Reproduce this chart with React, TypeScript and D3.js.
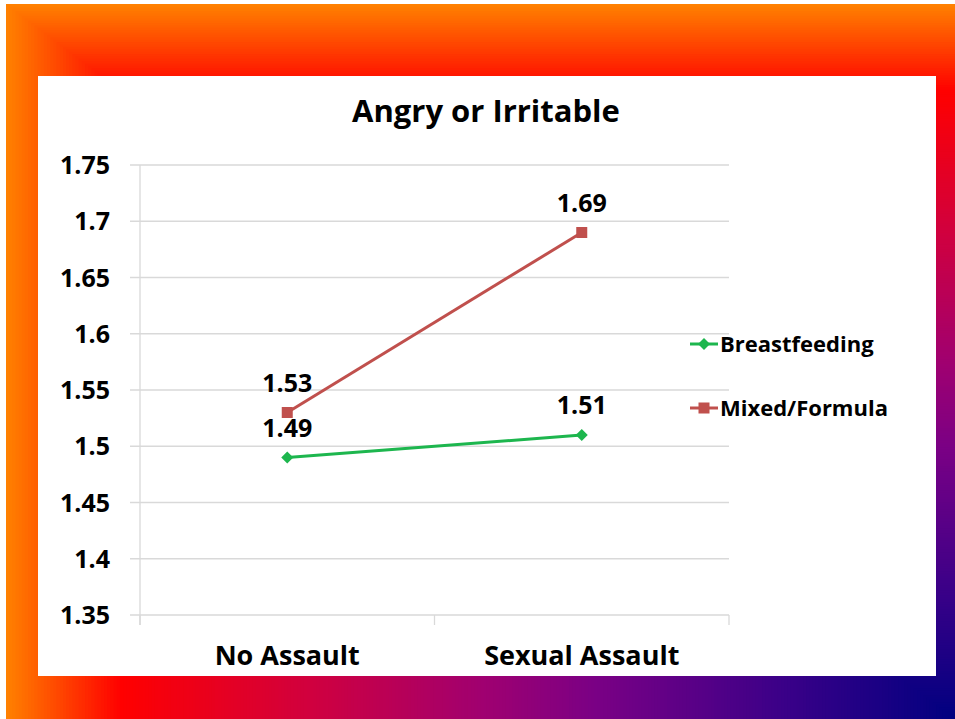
import React from "react";
import * as d3 from "d3";

const categories = ["No Assault", "Sexual Assault"];
const breastfeeding = [1.49, 1.51];
const mixedFormula = [1.53, 1.69];
const yTicks = [1.35, 1.4, 1.45, 1.5, 1.55, 1.6, 1.65, 1.7, 1.75];
const seriesNames = ["Breastfeeding", "Mixed/Formula"];
const title = "Angry or Irritable";

const W = 955;
const H = 719;
const FONT = "'Open Sans', Lato, sans-serif";
const GREEN = "#1DB64E";
const RED = "#C0504D";

export default function App() {
  const plotL = 140, plotR = 729, plotT = 165, plotB = 615;
  const x = d3.scaleBand<string>().domain(categories).range([plotL, plotR]);
  const cx = (c: string) => (x(c) as number) + x.bandwidth() / 2;
  const y = d3.scaleLinear().domain([1.35, 1.75]).range([plotB, plotT]);
  const line = d3.line<[number, number]>().x(d => d[0]).y(d => d[1]);

  // rectangular path gradient anchored at bottom-right
  const gx0 = 6, gy0 = 4;
  const gw = W - gx0, gh = H - gy0;
  const col = d3.scaleLinear<string>()
    .domain([0, 0.18, 0.38, 0.5, 0.68, 0.88, 1])
    .range(["#000080", "#3A0088", "#7A0085", "#A00070", "#D0003F", "#FF0000", "#FF8000"])
    .interpolate(d3.interpolateRgb);
  const steps = d3.range(300, 0, -1).map(i => i / 300);

  const series = [
    { name: seriesNames[0], values: breastfeeding, color: GREEN, marker: "diamond" },
    { name: seriesNames[1], values: mixedFormula, color: RED, marker: "square" },
  ];

  const marker = (m: string, px: number, py: number, color: string, key: string) =>
    m === "square" ? (
      <rect key={key} x={px - 5.5} y={py - 5.5} width={11} height={11} fill={color} />
    ) : (
      <path key={key} d={`M${px},${py - 6}L${px + 6},${py}L${px},${py + 6}L${px - 6},${py}Z`} fill={color} />
    );

  return (
    <svg width={W} height={H} style={{ position: "absolute", left: 0, top: 0, background: "#fff" }}>
      <g>
        {steps.map(t => (
          <rect key={t} x={W - t * gw} y={H - t * gh} width={t * gw} height={t * gh} fill={col(t)} />
        ))}
      </g>
      <rect x={38} y={76} width={898} height={600} fill="#fff" />
      <text x={486} y={122} textAnchor="middle" fontFamily={FONT} fontWeight="bold" fontSize={31} fill="#000">
        {title}
      </text>
      {yTicks.map(t => (
        <g key={t}>
          <line x1={plotL - 10} x2={plotR} y1={y(t)} y2={y(t)} stroke="#D9D9D9" strokeWidth={1.3} />
          <text x={110} y={y(t)} dy="0.36em" textAnchor="end" fontFamily={FONT} fontWeight="bold" fontSize={25} fill="#000">
            {String(t)}
          </text>
        </g>
      ))}
      <line x1={plotL} x2={plotL} y1={plotT} y2={plotB + 10} stroke="#D9D9D9" strokeWidth={1.3} />
      {[plotL, ...categories.map(c => (x(c) as number) + x.bandwidth())].map((v, i) => (
        <line key={i} x1={v} x2={v} y1={plotB} y2={plotB + 10} stroke="#D9D9D9" strokeWidth={1.3} />
      ))}
      {categories.map(c => (
        <text key={c} x={cx(c)} y={665} textAnchor="middle" fontFamily={FONT} fontWeight="bold" fontSize={27} fill="#000">
          {c}
        </text>
      ))}
      {series.map(s => {
        const pts = s.values.map((v, i) => [cx(categories[i]), y(v)] as [number, number]);
        return (
          <g key={s.name}>
            <path d={line(pts) as string} fill="none" stroke={s.color} strokeWidth={3} />
            {pts.map((p, i) => marker(s.marker, p[0], p[1], s.color, s.name + i))}
            {pts.map((p, i) => (
              <text key={"l" + i} x={p[0]} y={p[1] - 30} dy="0.36em" textAnchor="middle" fontFamily={FONT} fontWeight="bold" fontSize={25} fill="#000">
                {String(s.values[i])}
              </text>
            ))}
          </g>
        );
      })}
      {series.map((s, i) => {
        const ly = 344 + i * 64;
        return (
          <g key={"lg" + s.name}>
            <line x1={690} x2={718} y1={ly} y2={ly} stroke={s.color} strokeWidth={3} />
            {marker(s.marker, 704, ly, s.color, "lm" + i)}
            <text x={720} y={ly} dy="0.36em" fontFamily={FONT} fontWeight="bold" fontSize={22} fill="#000">
              {s.name}
            </text>
          </g>
        );
      })}
    </svg>
  );
}
